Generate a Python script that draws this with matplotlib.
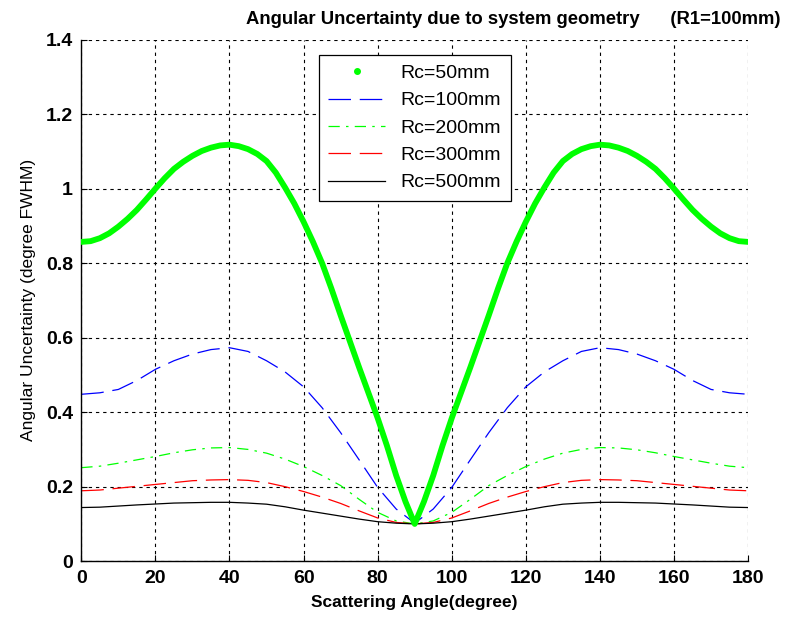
import matplotlib
matplotlib.use("Agg")
import matplotlib.pyplot as plt
from matplotlib.lines import Line2D

# ---- data ----
angle50 = [0, 2.5, 5, 7.5, 10, 12.5, 15, 17.5, 20, 22.5, 25, 27.5, 30, 32.5, 35, 37.5, 40,
           42.5, 45, 47.5, 50, 52.5, 55, 57.5, 60, 62.5, 65, 67.5, 70, 72.5, 75, 77.5, 80,
           82.5, 85, 87.5, 90, 92.5, 95, 97.5, 100, 102.5, 105, 107.5, 110, 112.5, 115,
           117.5, 120, 122.5, 125, 127.5, 130, 132.5, 135, 137.5, 140, 142.5, 145, 147.5,
           150, 152.5, 155, 157.5, 160, 162.5, 165, 167.5, 170, 172.5, 175, 177.5, 180]

rc50 = [0.857, 0.859, 0.867, 0.880, 0.898, 0.919, 0.943, 0.971, 1.000, 1.028, 1.053, 1.072,
        1.088, 1.101, 1.110, 1.116, 1.118, 1.114, 1.106, 1.093, 1.074, 1.043, 1.003, 0.960,
        0.911, 0.858, 0.800, 0.732, 0.660, 0.590, 0.520, 0.452, 0.384, 0.310, 0.230, 0.160,
        0.100,
        0.160, 0.230, 0.310, 0.384, 0.452, 0.520, 0.590, 0.660, 0.732, 0.800, 0.858, 0.911,
        0.960, 1.003, 1.043, 1.074, 1.093, 1.106, 1.114, 1.118, 1.116, 1.110, 1.101, 1.088,
        1.072, 1.053, 1.028, 1.000, 0.971, 0.943, 0.919, 0.898, 0.880, 0.867, 0.859, 0.857]

angle = [0, 5, 10, 15, 20, 25, 30, 35, 40, 45, 50, 55, 60, 65, 70, 75, 80, 85, 90,
         95, 100, 105, 110, 115, 120, 125, 130, 135, 140, 145, 150, 155, 160, 165, 170, 175, 180]

rc100 = [0.448, 0.452, 0.461, 0.485, 0.515, 0.538, 0.556, 0.568, 0.573, 0.563, 0.538, 0.508,
         0.468, 0.412, 0.345, 0.272, 0.198, 0.140, 0.102,
         0.140, 0.198, 0.272, 0.345, 0.412, 0.468, 0.508, 0.538, 0.563, 0.573, 0.568, 0.556,
         0.538, 0.515, 0.485, 0.461, 0.452, 0.448]

rc200 = [0.251, 0.255, 0.263, 0.272, 0.281, 0.291, 0.299, 0.304, 0.305, 0.300, 0.290, 0.274,
         0.254, 0.230, 0.203, 0.166, 0.131, 0.108, 0.100,
         0.108, 0.131, 0.166, 0.203, 0.230, 0.254, 0.274, 0.290, 0.300, 0.305, 0.304, 0.299,
         0.291, 0.281, 0.272, 0.263, 0.255, 0.251]

rc300 = [0.189, 0.191, 0.196, 0.201, 0.206, 0.211, 0.216, 0.218, 0.219, 0.217, 0.211, 0.200,
         0.187, 0.172, 0.155, 0.135, 0.116, 0.104, 0.100,
         0.104, 0.116, 0.135, 0.155, 0.172, 0.187, 0.200, 0.211, 0.217, 0.219, 0.218, 0.216,
         0.211, 0.206, 0.201, 0.196, 0.191, 0.189]

rc500 = [0.144, 0.145, 0.148, 0.151, 0.1535, 0.156, 0.157, 0.158, 0.158, 0.156, 0.153, 0.146,
         0.137, 0.129, 0.121, 0.113, 0.106, 0.102, 0.100,
         0.102, 0.106, 0.113, 0.121, 0.129, 0.137, 0.146, 0.153, 0.156, 0.158, 0.158, 0.157,
         0.156, 0.1535, 0.151, 0.148, 0.145, 0.144]

labels = ["Rc=50mm", "Rc=100mm", "Rc=200mm", "Rc=300mm", "Rc=500mm"]
xticks = [0, 20, 40, 60, 80, 100, 120, 140, 160, 180]
yticks = [0, 0.2, 0.4, 0.6, 0.8, 1.0, 1.2, 1.4]
ytick_labels = ["0", "0.2", "0.4", "0.6", "0.8", "1", "1.2", "1.4"]

plt.rcParams['font.family'] = ['Liberation Sans', 'DejaVu Sans']

fig = plt.figure(figsize=(7.95, 6.19), dpi=100)
ax = fig.add_axes([0.1023, 0.0934, 0.8387, 0.8426])

ax.plot(angle50, rc50, color=(0, 1, 0), lw=4.2, solid_capstyle='round',
        solid_joinstyle='round', zorder=5)
ax.plot(angle, rc100, color=(0, 0, 1), lw=0.9, dashes=(18, 7))
ax.plot(angle, rc200, color=(0, 1, 0), lw=0.9, dashes=(9, 5, 2, 5))
ax.plot(angle, rc300, color=(1, 0, 0), lw=0.9, dashes=(18, 7))
ax.plot(angle, rc500, color='black', lw=0.9)

ax.set_xlim(0, 180)
ax.set_ylim(0, 1.4)
ax.set_xticks(xticks)
ax.set_yticks(yticks)
ax.set_yticklabels(ytick_labels)
ax.tick_params(direction='in', length=4, width=0.8, labelsize=14, pad=6,
               top=False, right=False)
for lab in ax.get_xticklabels() + ax.get_yticklabels():
    lab.set_fontweight('bold')

ax.grid(True, color='black', lw=0.8, linestyle=(0, (3, 3.5)))
ax.spines['top'].set_visible(False)
ax.spines['right'].set_visible(False)
ax.spines['left'].set_linewidth(1.0)
ax.spines['bottom'].set_linewidth(1.0)

ax.set_xlabel("Scattering Angle(degree)", fontsize=12.5, fontweight='bold', labelpad=6)
ax.set_ylabel("Angular Uncertainty (degree FWHM)", fontsize=12.5, labelpad=7)

fig.text(0.982, 0.968, "Angular Uncertainty due to system geometry      (R1=100mm)",
         ha='right', va='center', fontsize=13.3, fontweight='bold',
         family=['Liberation Sans Narrow', 'Liberation Sans', 'DejaVu Sans'])

handles = [
    Line2D([], [], ls='none', marker='.', color=(0, 1, 0), ms=8),
    Line2D([], [], color=(0, 0, 1), lw=0.9, dashes=(18, 7)),
    Line2D([], [], color=(0, 1, 0), lw=0.9, dashes=(9, 5, 2, 5)),
    Line2D([], [], color=(1, 0, 0), lw=0.9, dashes=(18, 7)),
    Line2D([], [], color='black', lw=0.9),
]
leg = ax.legend(handles, labels, loc='upper left', bbox_to_anchor=(0.356, 0.971),
                fontsize=14, frameon=True, fancybox=False, handlelength=2.9,
                handletextpad=0.8, labelspacing=0.5, borderpad=0.5,
                borderaxespad=0)
leg.get_frame().set_edgecolor('black')
leg.get_frame().set_linewidth(0.9)
leg.get_frame().set_alpha(1)
leg.set_zorder(10)

fig.savefig("out.png", dpi=100)
